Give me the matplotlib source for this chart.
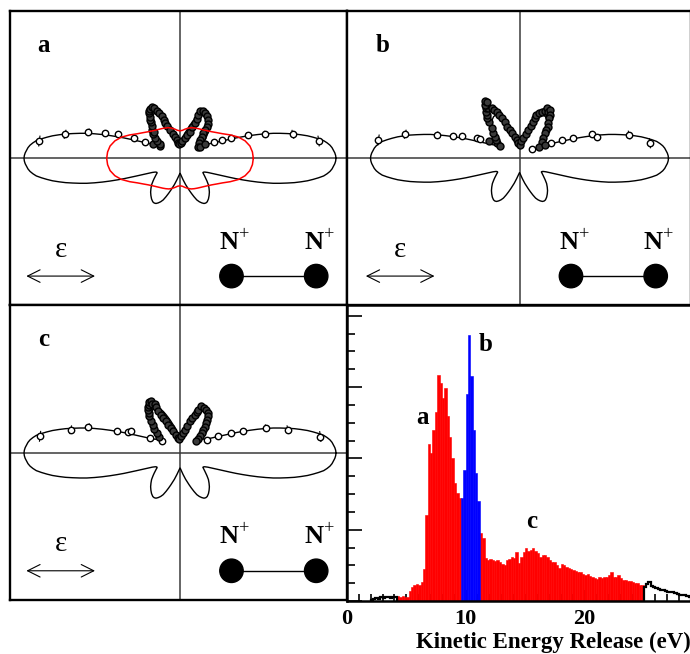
import numpy as np
import matplotlib
matplotlib.use("Agg")
import matplotlib.pyplot as plt
from matplotlib.patches import Circle

plt.rcParams['font.family'] = ['Liberation Serif', 'DejaVu Serif']
plt.rcParams['mathtext.fontset'] = 'custom'
plt.rcParams['mathtext.rm'] = 'Liberation Serif'
plt.rcParams['mathtext.bf'] = 'Liberation Serif:bold'

# ---------------- theory curve (one quadrant, angle from molecular axis, deg) ----------------
theory_theta = [0, 1, 2, 3, 4, 5, 6, 7, 8, 9, 10, 11, 12, 13, 14, 15, 16, 17, 18, 19, 20,
                21, 22, 23, 24, 25, 26, 27, 28, 29, 30, 31, 32, 33, 34, 36, 38, 40, 43, 46,
                49, 52, 55, 58, 60, 62, 64, 66, 68, 70, 72, 74, 76, 78, 80, 82, 84, 86, 88, 90]
theory_r = [1.000, 0.998, 0.993, 0.985, 0.977, 0.965, 0.948, 0.928, 0.897, 0.864, 0.830,
            0.790, 0.750, 0.705, 0.662, 0.619, 0.570, 0.521, 0.472, 0.425, 0.382, 0.340,
            0.305, 0.275, 0.250, 0.230, 0.214, 0.200, 0.190, 0.182, 0.177, 0.174, 0.173,
            0.176, 0.183, 0.196, 0.210, 0.225, 0.249, 0.268, 0.287, 0.303, 0.318, 0.329,
            0.331, 0.328, 0.318, 0.305, 0.288, 0.262, 0.236, 0.212, 0.190, 0.172, 0.154,
            0.138, 0.124, 0.112, 0.102, 0.096]
theory_scale = [1.0, 0.955, 1.0]

# second calculation (red, panel a)
calc_theta = [0, 5, 10, 15, 20, 25, 30, 35, 40, 45, 50, 55, 60, 65, 70, 75, 80, 85, 90]
calc_r = [0.470, 0.466, 0.455, 0.432, 0.398, 0.355, 0.315, 0.287, 0.265, 0.249, 0.237,
          0.228, 0.221, 0.215, 0.209, 0.200, 0.190, 0.180, 0.176]

# ---------------- measured angular distributions (polar angle deg, radius) ----------------
a_phi = [173.0, 168.2, 164.2, 161.6, 158.7, 156.5, 154.6, 152.3, 147.8,
         145.0, 143.4, 141.0, 138.0, 135.0, 134.5, 131.2, 129.0, 128.0, 126.2, 124.5, 122.8,
         121.0, 119.0, 117.5, 116.1, 114.5, 113.3, 113.0, 113.2, 111.5, 109.5, 106.5, 103.0,
         100.0, 96.5, 93.0,
         88.0, 83.0, 76.0, 72.5, 69.4, 68.0, 66.8, 67.0, 67.0, 67.2, 64.0, 61.0, 57.0, 53.5,
         51.5, 49.8, 48.0, 47.0, 45.0, 42.5, 38.0, 32.4,
         30.5, 29.5, 26.2, 23.9, 21.5, 18.7, 15.7, 12.0, 7.1]
a_r = [0.909, 0.753, 0.611, 0.507, 0.424, 0.322, 0.248, 0.193, 0.151,
       0.157, 0.186, 0.205, 0.230, 0.255, 0.240, 0.275, 0.300, 0.310, 0.326, 0.350, 0.363,
       0.372, 0.374, 0.360, 0.340, 0.320, 0.297, 0.270, 0.244, 0.220, 0.192, 0.165, 0.142,
       0.118, 0.097, 0.092,
       0.095, 0.110, 0.132, 0.157, 0.182, 0.213, 0.244, 0.272, 0.301, 0.331, 0.335, 0.330,
       0.320, 0.305, 0.285, 0.265, 0.242, 0.219, 0.196, 0.174, 0.155, 0.139,
       0.147, 0.182, 0.241, 0.294, 0.349, 0.460, 0.568, 0.740, 0.896]

b_phi = [172.6, 168.1, 164.2, 161.3, 158.4, 154.8, 153.8, 150.4, 146.4, 146.9,
         142.5, 138.4, 135.5, 132.6, 130.3, 128.5, 127.0, 125.5, 123.9, 122.5, 122.0, 123.0,
         121.0, 120.2, 118.9, 117.5, 115.9, 115.0, 113.7, 112.5, 111.7, 109.5, 106.9, 103.0,
         98.1, 94.0, 90.0,
         84.5, 79.5, 76.0, 73.0, 71.0, 69.5, 69.0, 68.6, 66.5, 64.7, 61.5, 61.0, 58.4, 57.8,
         55.5, 53.4, 51.0, 48.5, 46.5, 44.5, 41.0, 37.0, 30.9, 36.2,
         27.6, 25.1, 23.2, 21.0, 18.4, 15.3, 12.0, 6.6]
b_r = [0.912, 0.749, 0.550, 0.447, 0.393, 0.302, 0.281, 0.228, 0.174, 0.148,
       0.190, 0.208, 0.235, 0.261, 0.307, 0.330, 0.347, 0.365, 0.386, 0.380, 0.400, 0.410,
       0.425, 0.415, 0.366, 0.350, 0.332, 0.305, 0.280, 0.250, 0.218, 0.190, 0.167, 0.140,
       0.119, 0.100, 0.085,
       0.110, 0.130, 0.160, 0.190, 0.220, 0.250, 0.275, 0.298, 0.318, 0.330, 0.345, 0.370,
       0.351, 0.366, 0.340, 0.319, 0.295, 0.271, 0.250, 0.228, 0.200, 0.177, 0.145, 0.101,
       0.184, 0.226, 0.293, 0.369, 0.487, 0.512, 0.719, 0.842]

c_phi = [173.2, 168.0, 164.2, 161.2, 158.3, 156.0, 153.4,
         147.6, 143.5, 139.4, 137.0, 134.0, 132.0, 130.0, 128.0, 126.2, 124.5, 122.4, 121.5,
         119.0, 120.0, 116.9, 117.2, 117.5, 116.5, 115.5, 114.0, 112.5, 110.0, 107.2, 103.0,
         98.7, 93.0,
         85.5, 82.0, 78.6, 75.5, 73.0, 71.0, 69.0, 68.0, 67.4, 65.4, 62.0, 58.7, 55.5, 52.6,
         50.5, 48.8, 47.0, 45.4, 42.5, 40.1, 38.0, 35.4,
         26.0, 23.6, 21.3, 18.9, 16.2, 12.2, 6.7]
c_r = [0.904, 0.717, 0.611, 0.429, 0.357, 0.346, 0.215,
       0.139, 0.170, 0.197, 0.225, 0.252, 0.280, 0.306, 0.325, 0.344, 0.360, 0.367, 0.385,
       0.380, 0.365, 0.354, 0.330, 0.301, 0.275, 0.249, 0.222, 0.196, 0.170, 0.145, 0.120,
       0.097, 0.090,
       0.107, 0.130, 0.152, 0.180, 0.212, 0.240, 0.263, 0.285, 0.301, 0.328, 0.330, 0.325,
       0.312, 0.295, 0.275, 0.256, 0.232, 0.210, 0.187, 0.165, 0.145, 0.128,
       0.195, 0.266, 0.353, 0.427, 0.576, 0.708, 0.906]
angle_err_deg = 2.0

panel_labels = ['a', 'b', 'c']

# ---------------- kinetic energy release histogram ----------------
ker_first_edge = 2.0
ker_bin_width = 0.2
ker_counts = [
    0.02, 0.03, 0.04, 0.03, 0.05, 0.04, 0.06, 0.05, 0.04, 0.06, 0.05,            # 2.0-4.2
    0.07, 0.06, 0.07, 0.05, 0.06, 0.14, 0.20, 0.22, 0.24, 0.22,                  # 4.2-6.2
    0.27, 0.45, 1.20, 2.20, 2.07, 2.40, 2.65, 3.17, 3.05, 2.85,                  # 6.2-8.2
    2.98, 2.60, 2.30, 2.00, 1.65, 1.51, 1.44,                                    # 8.2-9.6
    1.44, 1.84, 2.90, 3.73, 3.15, 2.40, 1.80, 1.40,                              # 9.6-11.2
    0.95, 0.88, 0.60, 0.58, 0.59, 0.575, 0.56, 0.57, 0.55, 0.52,                 # 11.2-13.2
    0.505, 0.57, 0.59, 0.62, 0.60, 0.69, 0.53, 0.62, 0.69, 0.74,                 # 13.2-15.2
    0.70, 0.72, 0.75, 0.70, 0.67, 0.62, 0.64, 0.65, 0.62, 0.58,                  # 15.2-17.2
    0.55, 0.55, 0.50, 0.46, 0.52, 0.50, 0.48, 0.46, 0.45, 0.44,                  # 17.2-19.2
    0.42, 0.41, 0.40, 0.38, 0.365, 0.38, 0.35, 0.34, 0.32, 0.31,                 # 19.2-21.2
    0.33, 0.32, 0.34, 0.33, 0.37, 0.41, 0.34, 0.33, 0.36, 0.32,                  # 21.2-23.2
    0.30, 0.29, 0.28, 0.28, 0.27, 0.25, 0.25, 0.23, 0.22,                        # 23.2-25.0
    0.20, 0.24, 0.26, 0.21, 0.19, 0.18, 0.17, 0.16, 0.15, 0.14,                  # 25.0-27.0
    0.13, 0.12, 0.12, 0.11, 0.10, 0.09, 0.09, 0.08, 0.07, 0.06,                  # 27.0-29.0
]
gate_a = (4.2, 9.6)
gate_b = (9.6, 11.2)
gate_c = (11.2, 25.0)
ker_major_ticks = [0, 10, 20]
ker_label_text = ['a', 'b', 'c']

# ---------------- figure ----------------
W, H = 690, 654
fig = plt.figure(figsize=(W / 100, H / 100), dpi=100)
PX = 156.0  # pixels per unit radius


def add_px_axes(l, t, r, b):
    return fig.add_axes([l / W, 1 - b / H, (r - l) / W, (b - t) / H])


def full_curve(theta_q, r_q, scale=1.0):
    t = np.asarray(theta_q, float)
    r = np.asarray(r_q, float) * scale
    phi = np.concatenate([t, 180 - t[::-1], 180 + t, 360 - t[::-1]])
    rr = np.concatenate([r, r[::-1], r, r[::-1]])
    ph = np.radians(phi)
    return rr * np.cos(ph), rr * np.sin(ph)


serif_bold = dict(family=['Liberation Serif', 'DejaVu Serif'], weight='bold')

panels = [
    ((10, 11, 347, 305), (180.0, 158.3), a_phi, a_r),
    ((347, 11, 691, 305), (519.5, 158.3), b_phi, b_r),
    ((10, 305, 347, 600), (180.0, 453.0), c_phi, c_r),
]

for i, ((l, t, r, b), (cx, cy), phi_d, r_d) in enumerate(panels):
    ax = add_px_axes(l, t, r, b)
    ax.set_xlim((l - cx) / PX, (r - cx) / PX)
    ax.set_ylim((cy - b) / PX, (cy - t) / PX)
    ax.set_xticks([])
    ax.set_yticks([])
    for s in ax.spines.values():
        s.set_linewidth(1.7)
        s.set_color('black')
    ax.axhline(0, color='#3a3a3a', lw=1.1, zorder=1)
    ax.axvline(0, color='#3a3a3a', lw=1.1, zorder=1)

    x, y = full_curve(theory_theta, theory_r, theory_scale[i])
    ax.plot(x, y, color='black', lw=1.0, zorder=2)

    ph = np.radians(phi_d)
    rd = np.asarray(r_d)
    px_, py_ = rd * np.cos(ph), rd * np.sin(ph)
    # angular error bars
    for phk, rk in zip(phi_d, rd):
        arc = np.radians(np.linspace(phk - angle_err_deg, phk + angle_err_deg, 5))
        ax.plot(rk * np.cos(arc), rk * np.sin(arc), color='black', lw=0.8, zorder=3)
    # dense points appear dark (overlapping symbols)
    d = np.hypot(px_[:, None] - px_[None, :], py_[:, None] - py_[None, :])
    dense = (d < 0.055).sum(axis=1) >= 3
    ax.plot(px_[~dense], py_[~dense], 'o', ms=4.6, mfc='white', mec='black',
            mew=1.0, zorder=4, ls='none')
    ax.plot(px_[dense], py_[dense], 'o', ms=5.0, mfc='#3a3a3a', mec='black',
            mew=1.0, zorder=4, ls='none')

    if i == 0:
        xr, yr = full_curve(calc_theta, calc_r)
        ax.plot(xr, yr, color='#ff0000', lw=1.1, zorder=5)

    ax.text(-0.875, 0.725, panel_labels[i], ha='center', va='center', fontsize=18,
            **serif_bold)
    # polarization vector
    ax.annotate('', xy=(-0.545, -0.755), xytext=(-0.985, -0.755),
                arrowprops=dict(arrowstyle='<->,head_length=0.9,head_width=0.45',
                                lw=0.8, color='black', mutation_scale=10,
                                shrinkA=0, shrinkB=0))
    ax.text(-0.765, -0.585, 'ε', ha='center', va='center', fontsize=21,
            family=['Liberation Serif', 'DejaVu Serif'])
    # molecule
    ax.plot([0.33, 0.873], [-0.755, -0.755], color='black', lw=1.0, zorder=5)
    for xm in (0.33, 0.873):
        ax.add_patch(Circle((xm, -0.755), 0.075, color='black', zorder=6))
        ax.text(xm + 0.02, -0.535, r'$\mathbf{N}^{+}$', ha='center', va='center',
                fontsize=19)

# ---------------- histogram panel ----------------
axh = add_px_axes(347, 305, 691, 601)
counts = np.asarray(ker_counts)
left = ker_first_edge + ker_bin_width * np.arange(len(counts))
centers = left + ker_bin_width / 2


def in_gate(g):
    return (centers > g[0]) & (centers < g[1])


ma, mb, mc = in_gate(gate_a), in_gate(gate_b), in_gate(gate_c)
axh.bar(left[ma], counts[ma], width=ker_bin_width, align='edge', color='#ff0000',
        linewidth=0.4, edgecolor='#ff0000', zorder=2)
axh.bar(left[mc], counts[mc], width=ker_bin_width, align='edge', color='#ff0000',
        linewidth=0.4, edgecolor='#ff0000', zorder=2)
axh.bar(left[mb], counts[mb], width=ker_bin_width, align='edge', color='#0000ff',
        linewidth=0.4, edgecolor='#0000ff', zorder=2)
low = centers < gate_a[0]
high = centers > gate_c[1]
for m in (low, high):
    idx = np.where(m)[0]
    edges = np.append(left[idx], left[idx[-1]] + ker_bin_width)
    axh.stairs(counts[idx], edges, color='black', lw=1.6, zorder=3)

axh.set_xlim(0, 29.0)
axh.set_ylim(0, 4.15)
axh.spines['right'].set_visible(False)
for s in ('left', 'bottom', 'top'):
    axh.spines[s].set_linewidth(1.8)
axh.set_xticks(ker_major_ticks)
axh.set_xticks(np.arange(1, 29), minor=True)
axh.set_yticks([0, 1, 2, 3, 4])
axh.set_yticks(np.arange(0, 4.15, 0.25), minor=True)
axh.tick_params(axis='both', which='both', direction='in', top=False, right=False)
axh.tick_params(axis='y', which='major', length=11, width=1.2, labelleft=False)
axh.tick_params(axis='y', which='minor', length=6, width=1.2)
axh.tick_params(axis='x', which='major', length=8, width=1.2, pad=6)
axh.tick_params(axis='x', which='minor', length=5, width=1.2)
for lab in axh.get_xticklabels():
    lab.set_fontsize(16)
    lab.set_fontweight('bold')
axh.set_xlabel('Kinetic Energy Release (eV)', fontsize=16.5, fontweight='bold',
               loc='right', labelpad=2)

axh.text(6.4, 2.57, ker_label_text[0], ha='center', va='center', fontsize=18, **serif_bold)
axh.text(11.7, 3.6, ker_label_text[1], ha='center', va='center', fontsize=18, **serif_bold)
axh.text(15.6, 1.12, ker_label_text[2], ha='center', va='center', fontsize=18, **serif_bold)

fig.savefig('out.png', dpi=100, facecolor='white')
